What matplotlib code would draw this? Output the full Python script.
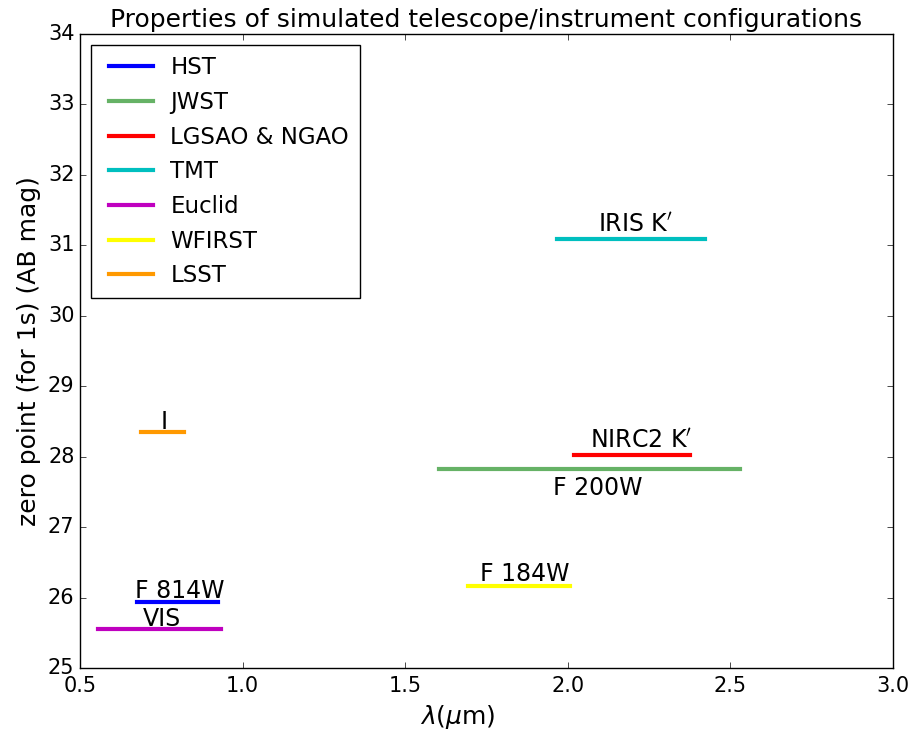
import matplotlib
matplotlib.use("Agg")
import matplotlib.pyplot as plt

plt.style.use('classic')
plt.rcParams['mathtext.fontset'] = 'dejavusans'

telescopes = ['HST', 'JWST', 'LGSAO & NGAO', 'TMT', 'Euclid', 'WFIRST', 'LSST']
filters = ['F 814W', 'F 200W', r'NIRC2 K$^\prime$', r'IRIS K$^\prime$', 'VIS', 'F 184W', 'I']
lam_min = [0.675, 1.604, 2.020, 1.968, 0.555, 1.693, 0.687]
lam_max = [0.924, 2.531, 2.375, 2.423, 0.933, 2.007, 0.821]
zero_point = [25.93, 27.83, 28.03, 31.09, 25.56, 26.16, 28.35]
colors = ['b', 'g', 'r', 'c', 'm', 'yellow', '#ff9900']
alphas = [1.0, 0.6, 1.0, 1.0, 1.0, 1.0, 1.0]
label_below = [False, True, False, False, False, False, False]
# label text offsets (points) relative to line centre
label_dx = [2, 6, 6.5, 3, 2, 4, 1.5]
label_dy = [3, -5, 5, 5, 2, 4, 2]

fig = plt.figure(figsize=(9.14, 7.4), dpi=100, facecolor='white')
ax = fig.add_axes([0.0875, 0.0973, 0.8895, 0.8567])

for i in range(len(telescopes)):
    ax.plot([lam_min[i], lam_max[i]], [zero_point[i], zero_point[i]],
            color=colors[i], alpha=alphas[i], lw=3, label=telescopes[i])
    xc = 0.5 * (lam_min[i] + lam_max[i])
    ax.annotate(filters[i], (xc, zero_point[i]), xytext=(label_dx[i], label_dy[i]),
                textcoords='offset points', ha='center',
                va='top' if label_below[i] else 'baseline', fontsize=17)

ax.set_xlim(0.5, 3.0)
ax.set_ylim(25, 34)
ax.tick_params(labelsize=15)
ax.tick_params(axis='x', pad=6)
ax.set_xlabel(r'$\lambda(\mu$m)', fontsize=18)
ax.xaxis.set_label_coords(0.465, -0.055)
ax.set_ylabel('zero point (for 1s) (AB mag)', fontsize=18)
ax.set_title('Properties of simulated telescope/instrument configurations', fontsize=18)
leg = ax.legend(loc='upper left', fontsize=16.5, handlelength=2.5, handletextpad=0.48,
                labelspacing=0.51, borderaxespad=0.5, borderpad=0.47)

fig.savefig('out.png', dpi=100, facecolor='white')
